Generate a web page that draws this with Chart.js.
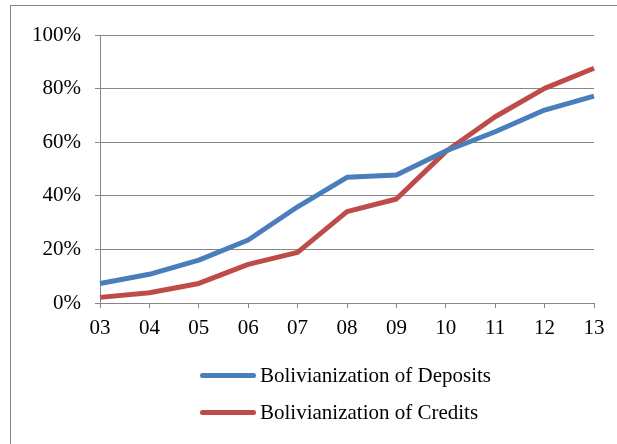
<!DOCTYPE html>
<html>
<head>
<meta charset="utf-8">
<script src="https://cdn.jsdelivr.net/npm/chart.js@4"></script>
<style>
  body { margin: 0; background: #fff; width: 617px; height: 444px; overflow: hidden; position: relative;
         font-family: 'Liberation Serif', 'Times New Roman', serif; }
  #frame { position: absolute; left: 10px; top: 5px; width: 700px; height: 500px; border: 1.5px solid #858585; }
  #wrap { position: absolute; left: 0; top: 0; width: 617px; height: 444px; }
  #legend { position: absolute; left: 200px; top: 357px; font-size: 21px; color: #000; }
  .item { display: flex; align-items: center; height: 37.3px; }
  .swatch { width: 56px; height: 5px; border-radius: 3px; margin-right: 4px; }
</style>
</head>
<body>
<div id="frame"></div>
<div id="wrap"><canvas id="chart"></canvas></div>
<div id="legend"></div>
<script>
const years = ['03', '04', '05', '06', '07', '08', '09', '10', '11', '12', '13'];
const deposits = [7.3, 10.7, 16.0, 23.5, 35.9, 46.9, 47.8, 56.7, 63.9, 72.0, 77.2];
const credits = [2.1, 3.8, 7.3, 14.4, 18.9, 34.1, 38.8, 56.5, 69.5, 80.1, 87.6];
const seriesNames = ['Bolivianization of Deposits', 'Bolivianization of Credits'];
const seriesColors = ['#4a7ebb', '#be4b48'];
const yTicks = [0, 20, 40, 60, 80, 100];

const gridColor = '#868686';
const tickFont = { family: "'Liberation Serif', 'Times New Roman', serif", size: 21 };

const chart = new Chart(document.getElementById('chart'), {
  type: 'line',
  data: {
    labels: years,
    datasets: [deposits, credits].map((values, i) => ({
      label: seriesNames[i],
      data: values,
      borderColor: seriesColors[i],
      backgroundColor: seriesColors[i],
      borderWidth: 5,
      pointRadius: 0,
      tension: 0,
      borderJoinStyle: 'round'
    }))
  },
  options: {
    responsive: true,
    maintainAspectRatio: false,
    animation: false,
    layout: { padding: { top: 35, right: 23, left: 0, bottom: 0 } },
    plugins: { legend: { display: false }, tooltip: { enabled: false } },
    scales: {
      x: {
        offset: false,
        afterFit: s => { s.height = 141; },
        grid: { drawOnChartArea: false, drawTicks: true, tickLength: 5, color: gridColor, lineWidth: 1 },
        border: { color: gridColor, width: 1 },
        ticks: { color: '#000', font: tickFont, padding: 8, maxRotation: 0 }
      },
      y: {
        min: 0,
        max: 100,
        afterFit: s => { s.width = 100; },
        afterBuildTicks: s => { s.ticks = yTicks.map(v => ({ value: v })); },
        grid: { color: gridColor, lineWidth: 1, tickLength: 5 },
        border: { color: gridColor, width: 1 },
        ticks: { color: '#000', font: tickFont, padding: 14, callback: v => v + '%' }
      }
    }
  }
});

const legend = document.getElementById('legend');
chart.data.datasets.forEach(ds => {
  const item = document.createElement('div');
  item.className = 'item';
  const sw = document.createElement('span');
  sw.className = 'swatch';
  sw.style.background = ds.borderColor;
  const txt = document.createElement('span');
  txt.textContent = ds.label;
  item.appendChild(sw);
  item.appendChild(txt);
  legend.appendChild(item);
});
</script>
</body>
</html>
